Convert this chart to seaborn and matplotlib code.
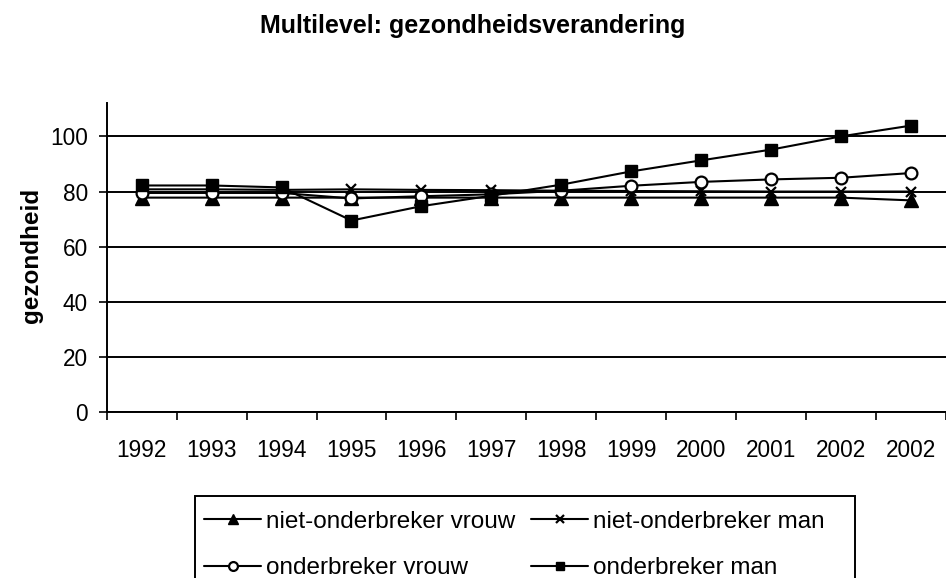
import matplotlib
matplotlib.use("Agg")
import matplotlib.pyplot as plt
from matplotlib.patches import Rectangle
import seaborn as sns
import numpy as np
import pandas as pd

years = ["1992", "1993", "1994", "1995", "1996", "1997", "1998", "1999", "2000", "2001", "2002", "2002"]
niet_onderbreker_vrouw = [77.8, 77.8, 77.8, 77.8, 77.8, 77.8, 77.8, 77.8, 77.8, 77.8, 77.8, 76.8]
niet_onderbreker_man = [80.8, 80.8, 80.6, 80.8, 80.6, 80.5, 80.3, 80.2, 80.1, 80.0, 80.0, 80.0]
onderbreker_vrouw = [79.5, 79.5, 79.5, 77.5, 78.3, 79.0, 80.3, 82.1, 83.5, 84.4, 85.0, 86.7]
onderbreker_man = [82.2, 82.2, 81.5, 69.5, 74.7, 78.5, 82.5, 87.3, 91.3, 95.2, 100.0, 103.9]

series = [
    ("niet-onderbreker vrouw", niet_onderbreker_vrouw, "^", 9.5, "black"),
    ("niet-onderbreker man", niet_onderbreker_man, "x", 7.5, "black"),
    ("onderbreker vrouw", onderbreker_vrouw, "o", 8.5, "white"),
    ("onderbreker man", onderbreker_man, "s", 8.5, "black"),
]

sns.set_theme(style="white")
plt.rcParams['font.family'] = ['Liberation Sans', 'DejaVu Sans']

fig = plt.figure(figsize=(9.46, 5.78), dpi=100)
ax = fig.add_axes([106.7/946, 1-412.3/578, 1-106.7/946, (412.3-102.7)/578])

pos = np.arange(len(years))
handles = {}
for name, vals, mk, ms, fc in series:
    df = pd.DataFrame({"pos": pos, "val": vals})
    sns.lineplot(data=df, x="pos", y="val", ax=ax, color="black", marker=mk,
                 markersize=ms, markerfacecolor=fc, markeredgecolor="black",
                 markeredgewidth=1.6 if mk in ("x", "o") else 1.0,
                 linewidth=1.5, label=name, zorder=3)
    handles[name] = ax.lines[-1]
ax.get_legend().remove()

ax.set_xlim(-0.5, len(years) - 0.5)
ax.set_ylim(0, 112.2)
ax.set_yticks([0, 20, 40, 60, 80, 100])
ax.set_xticks(pos)
ax.set_xticklabels(years)
ax.set_xticks(np.arange(-0.5, len(years) + 0.5, 1.0), minor=True)
ax.tick_params(axis="x", which="major", length=0, pad=19.5, labelsize=16.3, colors="black")
ax.tick_params(axis="x", which="minor", bottom=True, length=5.5, width=1.2, color="black")
ax.tick_params(axis="y", which="major", left=True, length=5.5, width=1.2, pad=8, labelsize=16.3, colors="black")

ax.yaxis.grid(True, color="black", linewidth=1.4, zorder=1)
ax.xaxis.grid(False)
ax.set_axisbelow(True)
for s in ["top", "right"]:
    ax.spines[s].set_visible(False)
for s in ["left", "bottom"]:
    ax.spines[s].set_color("black")
    ax.spines[s].set_linewidth(1.4)

ax.set_xlabel("")
ax.set_ylabel("gezondheid", fontsize=17.5, fontweight="bold", color="black")
ax.yaxis.set_label_coords(-0.0759, 0.508)

fig.text(0.5, 1 - 32.7/578, "Multilevel: gezondheidsverandering", ha="center", va="baseline",
         fontsize=18, fontweight="bold", color="black")

order = ["niet-onderbreker vrouw", "onderbreker vrouw", "niet-onderbreker man", "onderbreker man"]
leg = fig.legend([handles[n] for n in order], order, ncol=2, loc="upper left",
                 bbox_to_anchor=(204/946, 1 - 510.5/578), borderaxespad=0,
                 fontsize=17.5, frameon=False,
                 handlelength=2.35, handletextpad=0.2, columnspacing=0.65,
                 labelspacing=1.02, borderpad=0.0, markerscale=0.75)
for t in leg.get_texts():
    t.set_color("black")

# legend frame (extends past the bottom edge, as in the reference)
fig.patches.append(Rectangle((194.6/946, -0.05), (855 - 194.6)/946, (1 - 496/578) + 0.05,
                             transform=fig.transFigure, fill=False, edgecolor="black",
                             linewidth=1.4, zorder=5))

fig.savefig("out.png", dpi=100)
